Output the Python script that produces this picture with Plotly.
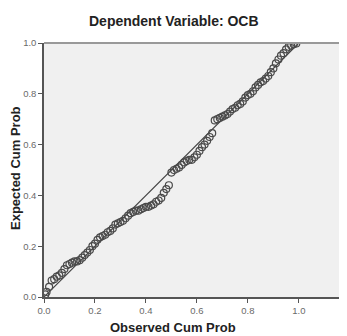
import plotly.graph_objects as go

observed = [0.005, 0.01, 0.02, 0.03, 0.04, 0.05, 0.06, 0.07, 0.08, 0.09,
            0.10, 0.11, 0.12, 0.13, 0.14, 0.15, 0.16, 0.17, 0.18, 0.19,
            0.20, 0.21, 0.22, 0.23, 0.24, 0.25, 0.26, 0.27, 0.28, 0.29,
            0.30, 0.31, 0.32, 0.33, 0.34, 0.35, 0.36, 0.37, 0.38, 0.39,
            0.40, 0.41, 0.42, 0.43, 0.44, 0.45, 0.46, 0.47, 0.48, 0.49,
            0.50, 0.51, 0.52, 0.53, 0.54, 0.55, 0.56, 0.57, 0.58, 0.59,
            0.60, 0.61, 0.62, 0.63, 0.64, 0.65, 0.66, 0.67, 0.68, 0.69,
            0.70, 0.71, 0.72, 0.73, 0.74, 0.75, 0.76, 0.77, 0.78, 0.79,
            0.80, 0.81, 0.82, 0.83, 0.84, 0.85, 0.86, 0.87, 0.88, 0.89,
            0.90, 0.91, 0.92, 0.93, 0.94, 0.95, 0.96, 0.97, 0.98, 0.99]
expected = [0.01, 0.02, 0.04, 0.065, 0.07, 0.08, 0.085, 0.095, 0.11, 0.125,
            0.13, 0.135, 0.14, 0.14, 0.145, 0.155, 0.165, 0.175, 0.185, 0.20,
            0.21, 0.225, 0.235, 0.24, 0.245, 0.255, 0.26, 0.27, 0.285, 0.29,
            0.295, 0.30, 0.31, 0.32, 0.33, 0.335, 0.34, 0.34, 0.345, 0.35,
            0.355, 0.355, 0.36, 0.365, 0.375, 0.38, 0.39, 0.41, 0.425, 0.44,
            0.49, 0.50, 0.505, 0.51, 0.52, 0.53, 0.535, 0.54, 0.54, 0.55,
            0.56, 0.575, 0.59, 0.60, 0.615, 0.63, 0.645, 0.695, 0.70, 0.705,
            0.71, 0.715, 0.72, 0.73, 0.74, 0.745, 0.755, 0.76, 0.77, 0.785,
            0.795, 0.80, 0.81, 0.825, 0.835, 0.845, 0.85, 0.86, 0.87, 0.885,
            0.90, 0.92, 0.935, 0.95, 0.96, 0.975, 0.985, 0.99, 0.995, 0.998]
ref_line = [0.0, 1.0]
tick_vals = [0.0, 0.2, 0.4, 0.6, 0.8, 1.0]
tick_text = ["0.0", "0.2", "0.4", "0.6", "0.8", "1.0"]

FONT = "Liberation Sans, Arial, sans-serif"

fig = go.Figure()
fig.add_trace(go.Scatter(x=ref_line, y=ref_line, mode="lines",
                         line=dict(color="#444444", width=1.2),
                         hoverinfo="skip", showlegend=False))
fig.add_trace(go.Scatter(x=observed, y=expected, mode="markers",
                         marker=dict(symbol="circle-open", size=7,
                                     color="#4a4a4a", line=dict(width=1.2)),
                         showlegend=False))

axis_common = dict(showgrid=False, zeroline=False, showline=True,
                   linecolor="#555555", linewidth=1.5, ticks="outside",
                   ticklen=4, tickcolor="#555555", tickwidth=1,
                   tickvals=tick_vals, ticktext=tick_text,
                   tickfont=dict(family=FONT, size=9.5, color="#6a6a6a"))

# page body has an 8px default margin, so the figure is drawn 8px smaller
fig.update_layout(
    width=339, height=328,
    margin=dict(l=36, r=0, t=35, b=39),
    paper_bgcolor="white", plot_bgcolor="#f0f0f0",
    xaxis=dict(range=[0, 1.189], **axis_common),
    yaxis=dict(range=[0, 1.0], **axis_common),
    shapes=[dict(type="line", xref="paper", yref="paper", x0=0, x1=1,
                 y0=1, y1=1, line=dict(color="#999999", width=2))],
    annotations=[
        dict(text="<b>Dependent Variable: OCB</b>", xref="paper", yref="paper",
             x=(173.5 - 44) / 303, y=1 + (43 - 21) / 254, showarrow=False,
             xanchor="center", yanchor="middle",
             font=dict(family=FONT, size=14, color="#222222")),
        dict(text="<b>Observed Cum Prob</b>", xref="paper", yref="paper",
             x=(173 - 44) / 303, y=-(327 - 297) / 254, showarrow=False,
             xanchor="center", yanchor="middle",
             font=dict(family=FONT, size=13, color="#222222")),
        dict(text="<b>Expected Cum Prob</b>", xref="paper", yref="paper",
             x=-(44 - 15) / 303, y=(297 - 168) / 254, showarrow=False,
             textangle=-90, xanchor="center", yanchor="middle",
             font=dict(family=FONT, size=13, color="#222222")),
    ],
)

fig.write_html("out.html")
